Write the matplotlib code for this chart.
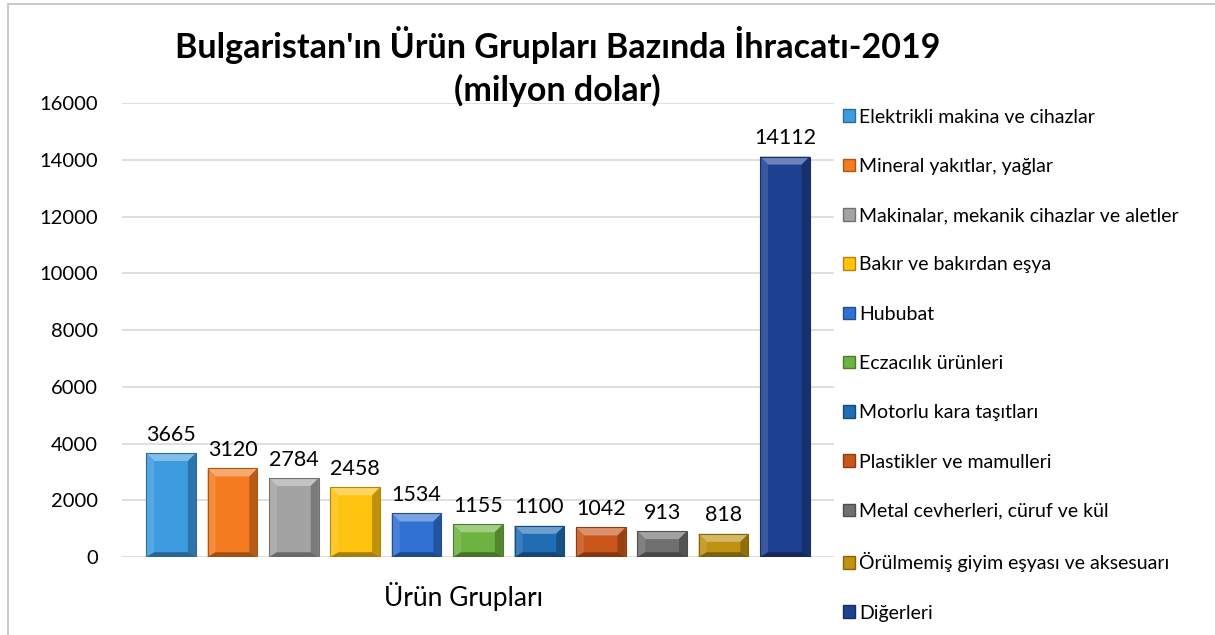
import matplotlib.pyplot as plt
import matplotlib.colors as mcolors
from matplotlib.patches import Polygon, Patch, Rectangle
import numpy as np

plt.rcParams['font.family'] = ['Lato', 'DejaVu Sans']

# === データ ===
categories = [
    'Elektrikli makina ve cihazlar',
    'Mineral yakıtlar, yağlar',
    'Makinalar, mekanik cihazlar ve aletler',
    'Bakır ve bakırdan eşya',
    'Hububat',
    'Eczacılık ürünleri',
    'Motorlu kara taşıtları',
    'Plastikler ve mamulleri',
    'Metal cevherleri, cüruf ve kül',
    'Örülmemiş giyim eşyası ve aksesuarı',
    'Diğerleri',
]
values = [3665, 3120, 2784, 2458, 1534, 1155, 1100, 1042, 913, 818, 14112]
colors = ['#3d9be0', '#f47b20', '#a3a3a3', '#ffc20e', '#2f70d3', '#6db33f',
          '#1f6db2', '#c9561b', '#6f6f6f', '#bf9212', '#1f4192']
yticks = [0, 2000, 4000, 6000, 8000, 10000, 12000, 14000, 16000]

fig = plt.figure(figsize=(12.15, 6.35), dpi=100)
ax = fig.add_axes([0.1004, 0.1228, 0.586, 0.7150])

x = np.arange(len(values))
width = 0.81
bars = ax.bar(x, values, width=width, color=colors, edgecolor='none', zorder=2)
ax.set_xlim(-0.8, 10.8)
ax.set_ylim(0, 16000)
ax.set_yticks(yticks)
ax.tick_params(axis='y', length=0, labelsize=14.5, pad=17.5)
ax.tick_params(axis='x', length=0, labelbottom=False)
for s in ax.spines.values():
    s.set_visible(False)
ax.yaxis.grid(True, color='#d9d9d9', linewidth=1.2, zorder=0)
ax.set_axisbelow(True)
ax.set_xlabel('Ürün Grupları', fontsize=19)
ax.xaxis.label.set_va('center')
ax.xaxis.set_label_coords(0.48, -0.086)


def shade(c, f):
    r, g, b = mcolors.to_rgb(c)
    if f > 0:
        return (r + (1 - r) * f, g + (1 - g) * f, b + (1 - b) * f)
    return (r * (1 + f), g * (1 + f), b * (1 + f))


# 面取り風の立体効果
inv = ax.transData.inverted()
p0 = inv.transform((0, 0))
p1 = inv.transform((8, 8))
bx, by = p1 - p0
for bar, c in zip(bars, colors):
    x0, y0 = bar.get_x(), bar.get_y()
    x1, y1 = x0 + bar.get_width(), y0 + bar.get_height()
    dy = min(by, (y1 - y0) / 2.5)
    ix0, ix1, iy0, iy1 = x0 + bx, x1 - bx, y0 + dy * 0.6, y1 - dy
    faces = [
        ([(x0, y1), (x1, y1), (ix1, iy1), (ix0, iy1)], shade(c, 0.35)),
        ([(x0, y0), (x0, y1), (ix0, iy1), (ix0, iy0)], shade(c, 0.12)),
        ([(x1, y0), (x1, y1), (ix1, iy1), (ix1, iy0)], shade(c, -0.25)),
        ([(x0, y0), (x1, y0), (ix1, iy0), (ix0, iy0)], shade(c, -0.35)),
    ]
    for pts, fc in faces:
        ax.add_patch(Polygon(pts, closed=True, facecolor=fc, edgecolor='none', zorder=3))
    ax.add_patch(Rectangle((x0, y0), x1 - x0, y1 - y0, fill=False,
                           edgecolor=shade(c, -0.3), linewidth=0.8, zorder=4))

for bar, v in zip(bars, values):
    ax.annotate(str(v), (bar.get_x() + bar.get_width() / 2, v), xytext=(0, 6),
                textcoords='offset points', ha='center', va='bottom', fontsize=15.5)

fig.text(0.459, 0.929, "Bulgaristan'ın Ürün Grupları Bazında İhracatı-2019",
         ha='center', va='center', fontsize=24.5, fontweight='bold')
fig.text(0.459, 0.858, '(milyon dolar)', ha='center', va='center',
         fontsize=24.5, fontweight='bold')

handles = [Patch(facecolor=c, edgecolor=shade(c, -0.3)) for c in colors]
fig.legend(handles, categories, loc='upper left', bbox_to_anchor=(0.6938, 0.829),
           frameon=False, fontsize=14, handlelength=0.62, handleheight=0.62,
           handletextpad=0.2, labelspacing=1.66, borderaxespad=0, borderpad=0)

fig.patches.append(Rectangle((0.0066, -0.05), 1.05, 1.0437, transform=fig.transFigure,
                             fill=False, edgecolor='#bfbfbf', linewidth=1.2))

fig.savefig('out.png', dpi=100)
